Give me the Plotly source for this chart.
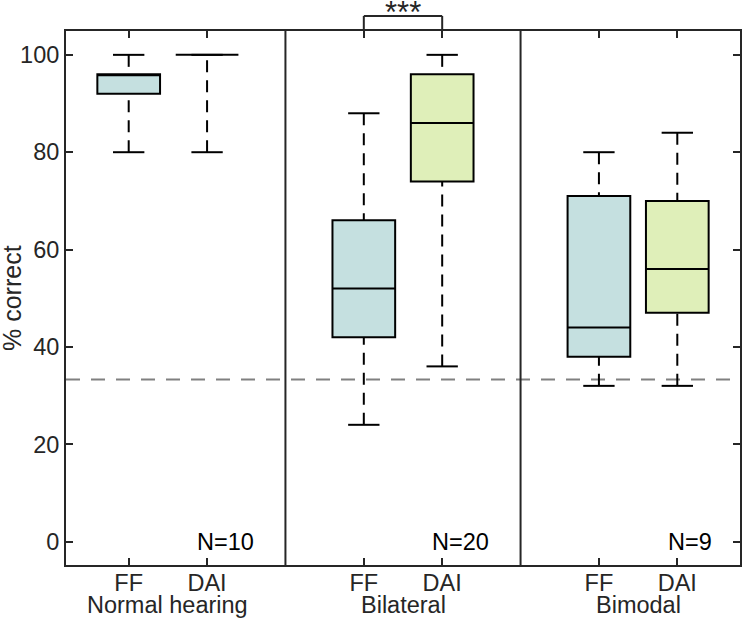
import plotly.graph_objects as go

# ---------------- data ----------------
groups = ["Normal hearing", "Bilateral", "Bimodal"]
conditions = ["FF", "DAI"]
n_labels = ["N=10", "N=20", "N=9"]

ff_lower = [80, 24, 32]
ff_q1 = [92, 42, 38]
ff_median = [96, 52, 44]
ff_q3 = [96, 66, 71]
ff_upper = [100, 88, 80]

dai_lower = [80, 36, 32]
dai_q1 = [100, 74, 47]
dai_median = [100, 86, 56]
dai_q3 = [100, 96, 70]
dai_upper = [100, 100, 84]

chance_level = 33.33
y_ticks = [0, 20, 40, 60, 80, 100]
significance = "***"
sig_group = 1  # Bilateral FF vs DAI

# ---------------- style ----------------
AX = "#262626"
FONT = "Liberation Sans, Arial, sans-serif"
FS = 23.5
fill_colors = {"FF": "#c5e0e0", "DAI": "#dfefb9"}
BOX_W = 0.8
CAP_W = 0.4

fig = go.Figure()

stats = {
    "FF": (ff_lower, ff_q1, ff_median, ff_q3, ff_upper),
    "DAI": (dai_lower, dai_q1, dai_median, dai_q3, dai_upper),
}

positions = {}
for gi, g in enumerate(groups):
    for ci, c in enumerate(conditions):
        positions[(gi, c)] = gi * 3 + ci + 1

for gi, g in enumerate(groups):
    for c in conditions:
        lo, q1, med, q3, up = (s[gi] for s in stats[c])
        p = positions[(gi, c)]
        fig.add_trace(go.Box(
            x=[p], q1=[q1], median=[med], q3=[q3],
            lowerfence=[q1], upperfence=[q3],
            width=BOX_W, whiskerwidth=0, boxpoints=False,
            fillcolor=fill_colors[c],
            line=dict(color="black", width=2),
            hoverinfo="skip", showlegend=False,
        ))
        # dashed whiskers (from cap toward box)
        fig.add_trace(go.Scatter(
            x=[p, p, None, p, p], y=[up, q3, None, lo, q1],
            mode="lines", line=dict(color="black", width=2, dash="12px,8px"),
            hoverinfo="skip", showlegend=False,
        ))
        # caps
        fig.add_trace(go.Scatter(
            x=[p - CAP_W / 2, p + CAP_W / 2, None, p - CAP_W / 2, p + CAP_W / 2],
            y=[up, up, None, lo, lo],
            mode="lines", line=dict(color="black", width=2),
            hoverinfo="skip", showlegend=False,
        ))

tickvals = [positions[(gi, c)] for gi in range(len(groups)) for c in conditions]
ticktext = [c for gi in range(len(groups)) for c in conditions]

shapes = []
annotations = []

# group separators
for gi in range(len(groups) - 1):
    xs = (positions[(gi, "DAI")] + positions[(gi + 1, "FF")]) / 2
    shapes.append(dict(type="line", xref="x", yref="paper", x0=xs, x1=xs, y0=0, y1=1,
                       line=dict(color=AX, width=2), layer="above"))

# chance line
shapes.append(dict(type="line", xref="paper", yref="y", x0=0, x1=1,
                   y0=chance_level, y1=chance_level,
                   line=dict(color="#808080", width=2, dash="14px,11px"), layer="below"))

# significance bracket
xa, xb = positions[(sig_group, "FF")], positions[(sig_group, "DAI")]
for x0, x1, y0, y1 in [(xa, xa, 0, 15), (xb, xb, 0, 15), (xa, xb, 15, 15)]:
    shapes.append(dict(type="line", xref="x", yref="paper", ysizemode="pixel", yanchor=1,
                       x0=x0, x1=x1, y0=y0, y1=y1, line=dict(color=AX, width=2)))
annotations.append(dict(text=significance, x=(xa + xb) / 2, xref="x", y=1, yref="paper",
                        yshift=19, yanchor="middle", showarrow=False,
                        font=dict(size=31, color=AX, family=FONT)))

# group labels and N labels
for gi, g in enumerate(groups):
    xc = (positions[(gi, "FF")] + positions[(gi, "DAI")]) / 2
    annotations.append(dict(text=g, x=xc, xref="x", y=0, yref="paper", yshift=-40,
                            yanchor="middle", showarrow=False,
                            font=dict(size=FS, color=AX, family=FONT)))
    annotations.append(dict(text=n_labels[gi], x=positions[(gi, "DAI")] - 0.15, xref="x",
                            y=0, yref="y", xanchor="left", yanchor="middle", showarrow=False,
                            font=dict(size=FS, color="black", family=FONT)))

# y title
annotations.append(dict(text="% correct", x=0, xref="paper", xshift=-54, y=0.5, yref="paper",
                        textangle=-90, xanchor="center", yanchor="middle", showarrow=False,
                        font=dict(size=25, color=AX, family=FONT)))

axis_common = dict(showline=True, linewidth=2, linecolor=AX, mirror="ticks",
                   ticks="inside", ticklen=7, tickwidth=2, tickcolor=AX,
                   showgrid=False, zeroline=False,
                   tickfont=dict(size=FS, color=AX, family=FONT))

fig.update_layout(
    width=744, height=619,
    margin=dict(l=66, r=2, t=31, b=54),
    plot_bgcolor="white", paper_bgcolor="white",
    boxmode="overlay", showlegend=False,
    font=dict(family=FONT, size=FS, color=AX),
    xaxis=dict(range=[0.2, 8.8], tickvals=tickvals, ticktext=ticktext,
               ticklabelstandoff=-4, **axis_common),
    yaxis=dict(range=[-4.8, 104.9], tickvals=y_ticks, **axis_common),
    shapes=shapes, annotations=annotations,
)

fig.write_html(
    "out.html",
    config={"displayModeBar": False, "staticPlot": True},
    post_script="document.body.style.margin='0px';document.body.style.overflow='hidden';",
)
